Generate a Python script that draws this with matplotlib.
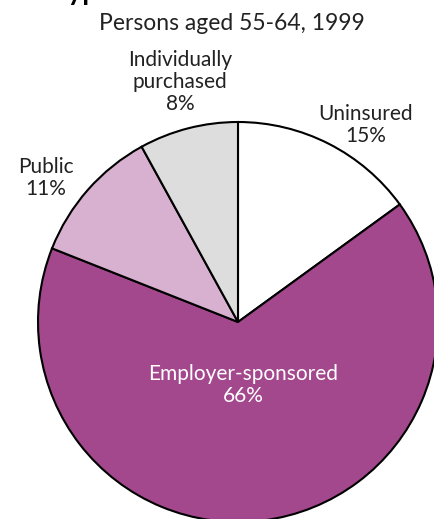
import matplotlib.pyplot as plt

# Health insurance coverage, persons aged 55-64, 1999
categories = ['Uninsured', 'Employer-sponsored', 'Public', 'Individually\npurchased']
shares = [15, 66, 11, 8]
colors = ['#ffffff', '#a4488e', '#d7b1cf', '#dddddd']

plt.rcParams['font.family'] = ['Lato', 'DejaVu Sans']

fig = plt.figure(figsize=(4.34, 5.19), dpi=100)
ax = fig.add_axes([0, 0, 1, 1])

# pixel-like coordinates: x to the right, y negative downwards
ax.pie(shares, colors=colors, startangle=90, counterclock=False,
       center=(238, -322), radius=200,
       wedgeprops=dict(edgecolor='black', linewidth=1.5))
ax.set_xlim(0, 434)
ax.set_ylim(-519, 0)
ax.set_aspect('equal')
ax.axis('off')

# cut-off heading and subtitle
fig.text(52 / 434, 1.0, 'Type', fontsize=20, fontweight='bold',
         va='baseline', ha='left')
ax.text(232, -23, 'Persons aged 55-64, 1999', fontsize=16.5,
        ha='center', va='center', color='#222222')

label_pos = [(366, -125), (243, -385), (46, -178), (180, -82)]
for cat, val, (x, y) in zip(categories, shares, label_pos):
    ax.text(x, y, f'{cat}\n{val}%', ha='center', va='center', fontsize=15,
            linespacing=1.15,
            color='white' if cat.startswith('Employer') else '#222222')

fig.savefig('out.png', dpi=100)
